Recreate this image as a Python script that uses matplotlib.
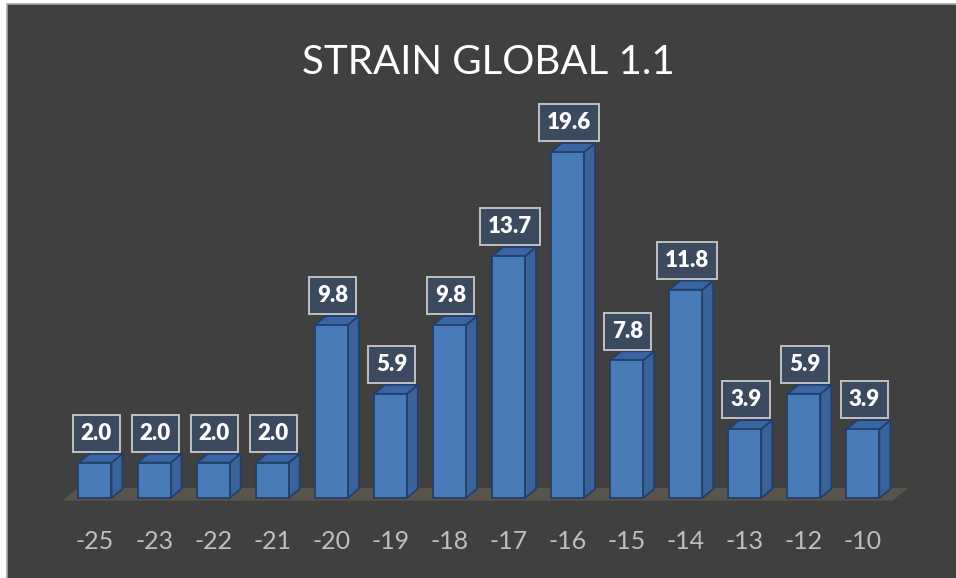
import matplotlib.pyplot as plt
from matplotlib.patches import Polygon, Rectangle

# strain classes and share of samples (%)
categories = ["-25", "-23", "-22", "-21", "-20", "-19", "-18", "-17",
              "-16", "-15", "-14", "-13", "-12", "-10"]
values = [2.0, 2.0, 2.0, 2.0, 9.8, 5.9, 9.8, 13.7, 19.6, 7.8, 11.8, 3.9, 5.9, 3.9]
title = "STRAIN GLOBAL 1.1"

plt.rcParams['font.family'] = ['Lato', 'DejaVu Sans']

bg = '#404040'
front = '#4a7bb9'
side = '#3c6399'
top = '#3a65a3'
edge = '#223f6b'
floor_col = '#5a554c'

fig = plt.figure(figsize=(9.56, 5.78), dpi=100, facecolor='white')
# chart panel with thin light border
fig.patches.append(Rectangle((7 / 956, -0.01), 1.01 - 7 / 956, 0.01 + 574 / 578,
                             transform=fig.transFigure, facecolor=bg,
                             edgecolor='#a6a6a6', lw=1.2, zorder=-5))

ax = fig.add_axes([60 / 956, 0.1079, 860 / 956, 0.7634])
ax.set_facecolor('none')
x0 = -0.5925
ax.set_xlim(x0, x0 + 860 / 59.07)
ax.set_ylim(-1, 24)

width = 33 / 59.07
dx = 11 / 59.07   # depth offset to the right
dy = 9 / 17.65    # depth offset upward

xs = list(range(len(values)))

# floor plane
fl, fr = -0.55, len(values) - 1 + 0.5
fy = -0.15
ax.add_patch(Polygon([(fl, fy), (fr, fy), (fr + 1.4 * dx, fy + 1.4 * dy),
                      (fl + 1.4 * dx, fy + 1.4 * dy)],
                     closed=True, facecolor=floor_col, edgecolor='none', zorder=1))

ax.bar(xs, values, width=width, color=front, edgecolor=edge, lw=1.3, zorder=3)

for x, v in zip(xs, values):
    l, r = x - width / 2, x + width / 2
    ax.add_patch(Polygon([(r, 0), (r + dx, dy), (r + dx, v + dy), (r, v)],
                         closed=True, facecolor=side, edgecolor=edge, lw=1.3, zorder=2))
    ax.add_patch(Polygon([(l, v), (r, v), (r + dx, v + dy), (l + dx, v + dy)],
                         closed=True, facecolor=top, edgecolor=edge, lw=1.3, zorder=2))
    ax.annotate(f"{v:.1f}", (x + 0.02, v + dy), xytext=(0, 7),
                textcoords='offset points', ha='center', va='bottom',
                fontsize=16, fontweight='heavy', color='white', zorder=5,
                bbox=dict(boxstyle='square,pad=0.36', facecolor='#3b4a5e',
                          edgecolor='#bfc1c4', lw=1.4))

ax.set_xticks(xs)
ax.set_xticklabels(categories, fontsize=18, color='#bfbfbf')
ax.tick_params(axis='x', length=0, pad=10)
ax.set_yticks([])
for s in ax.spines.values():
    s.set_visible(False)

fig.text(488 / 956, 1 - 62 / 578, title, ha='center', va='center',
         fontsize=29, color='white')

fig.savefig('out.png', dpi=100, facecolor=fig.get_facecolor())
